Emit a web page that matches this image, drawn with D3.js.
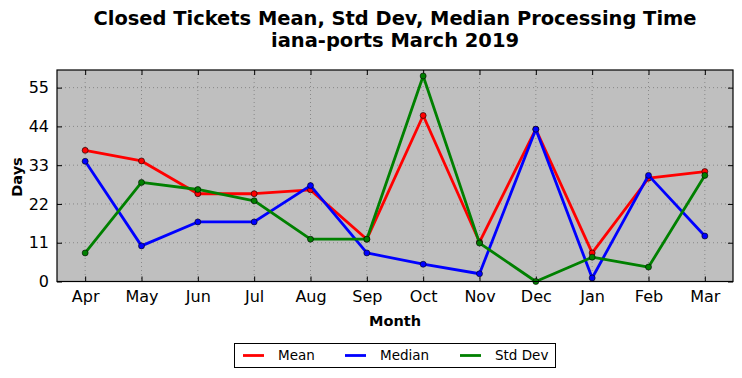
<!DOCTYPE html>
<html><head><meta charset="utf-8">
<script src="https://cdn.jsdelivr.net/npm/d3@7"></script>
<style>body{margin:0;background:#fff;} text{font-family:"DejaVu Sans",sans-serif;}</style>
</head><body><svg id="c" width="742" height="378"></svg>
<script>
const months = ["Apr","May","Jun","Jul","Aug","Sep","Oct","Nov","Dec","Jan","Feb","Mar"];
const meanVals = [37.2,34.2,24.9,24.9,26.0,12.0,47.1,11.2,43.2,8.1,29.3,31.2];
const medianVals = [34.1,10.1,16.9,16.9,27.2,8.1,4.9,2.2,43.2,1.0,30.1,12.9];
const stdVals = [8.1,28.1,26.1,22.9,12.0,12.0,58.3,10.9,0,6.9,4.1,30.1];
const yTicks = [0,11,22,33,44,55];
const seriesNames = ["Mean","Median","Std Dev"];
const seriesColors = ["#ff0000","#0000ff","#008000"];

const svg = d3.select("#c");
const L=57,R=733,T=70,B=281.5;
const x = d3.scaleLinear().domain([-0.5,11.5]).range([L,R]);
const y = d3.scaleLinear().domain([0,60]).range([B,T]);

svg.append("rect").attr("x",L).attr("y",T).attr("width",R-L).attr("height",B-T).attr("fill","#bfbfbf");

// grid
const g = svg.append("g");
g.selectAll(".vg").data(months).enter().append("line")
 .attr("x1",(d,i)=>x(i)).attr("x2",(d,i)=>x(i)).attr("y1",T).attr("y2",B)
 .attr("stroke","#7a7a7a").attr("stroke-width",0.8).attr("stroke-dasharray","1,3");
g.selectAll(".hg").data(yTicks).enter().append("line")
 .attr("x1",L).attr("x2",R).attr("y1",d=>y(d)).attr("y2",d=>y(d))
 .attr("stroke","#7a7a7a").attr("stroke-width",0.8).attr("stroke-dasharray","1,3");

// axes
const xAxis = d3.axisBottom(x).tickValues(d3.range(12)).tickFormat(i=>months[i]).tickSizeInner(-5).tickSizeOuter(0).tickPadding(9);
const yAxis = d3.axisLeft(y).tickValues(yTicks).tickSizeInner(-5).tickSizeOuter(0).tickPadding(8);
const xa = svg.append("g").attr("transform",`translate(0,${B})`).call(xAxis);
const ya = svg.append("g").attr("transform",`translate(${L},0)`).call(yAxis);
const xt = svg.append("g").attr("transform",`translate(0,${T})`).call(d3.axisTop(x).tickValues(d3.range(12)).tickFormat("").tickSizeInner(-5).tickSizeOuter(0));
const yr = svg.append("g").attr("transform",`translate(${R},0)`).call(d3.axisRight(y).tickValues(yTicks).tickFormat("").tickSizeInner(-5).tickSizeOuter(0));
[xa,ya,xt,yr].forEach(a=>{a.select(".domain").remove();a.selectAll("line").attr("stroke","#000");a.selectAll("text").attr("font-size",16).attr("fill","#000").attr("font-family","DejaVu Sans");});

// series
const data=[meanVals,medianVals,stdVals];
const line = d3.line().x((d,i)=>x(i)).y(d=>y(d));
data.forEach((vals,k)=>{
  svg.append("path").datum(vals).attr("d",line).attr("fill","none").attr("stroke",seriesColors[k]).attr("stroke-width",2.8).attr("stroke-linejoin","round");
  svg.selectAll(null).data(vals).enter().append("circle").attr("cx",(d,i)=>x(i)).attr("cy",d=>y(d)).attr("r",3)
   .attr("fill",seriesColors[k]).attr("stroke","#000").attr("stroke-width",0.6);
});

svg.append("rect").attr("x",L).attr("y",T).attr("width",R-L).attr("height",B-T).attr("fill","none").attr("stroke","#000").attr("stroke-width",1.2);

// titles
svg.append("text").attr("x",395).attr("y",25).attr("text-anchor","middle").attr("font-size",19.5).attr("font-weight","bold")
  .attr("textLength",603).attr("lengthAdjust","spacingAndGlyphs").text("Closed Tickets Mean, Std Dev, Median Processing Time");
svg.append("text").attr("x",395).attr("y",47).attr("text-anchor","middle").attr("font-size",19.5).attr("font-weight","bold")
  .attr("textLength",248).attr("lengthAdjust","spacingAndGlyphs").text("iana-ports March 2019");
svg.append("text").attr("x",395).attr("y",325.5).attr("text-anchor","middle").attr("font-size",14.5).attr("font-weight","bold").text("Month");
svg.append("text").attr("transform","translate(22,177) rotate(-90)").attr("text-anchor","middle").attr("font-size",14.5).attr("font-weight","bold").text("Days");

// legend
const lg = svg.append("g");
lg.append("rect").attr("x",234.5).attr("y",343.5).attr("width",321).attr("height",24).attr("fill","#fff").attr("stroke","#000").attr("stroke-width",1);
const lx=[243,345,460];
seriesNames.forEach((n,k)=>{
  lg.append("line").attr("x1",lx[k]).attr("x2",lx[k]+21).attr("y1",355.5).attr("y2",355.5).attr("stroke",seriesColors[k]).attr("stroke-width",2.8);
  lg.append("text").attr("x",lx[k]+35).attr("y",360).attr("font-size",13.5).text(n);
});
</script></body></html>
